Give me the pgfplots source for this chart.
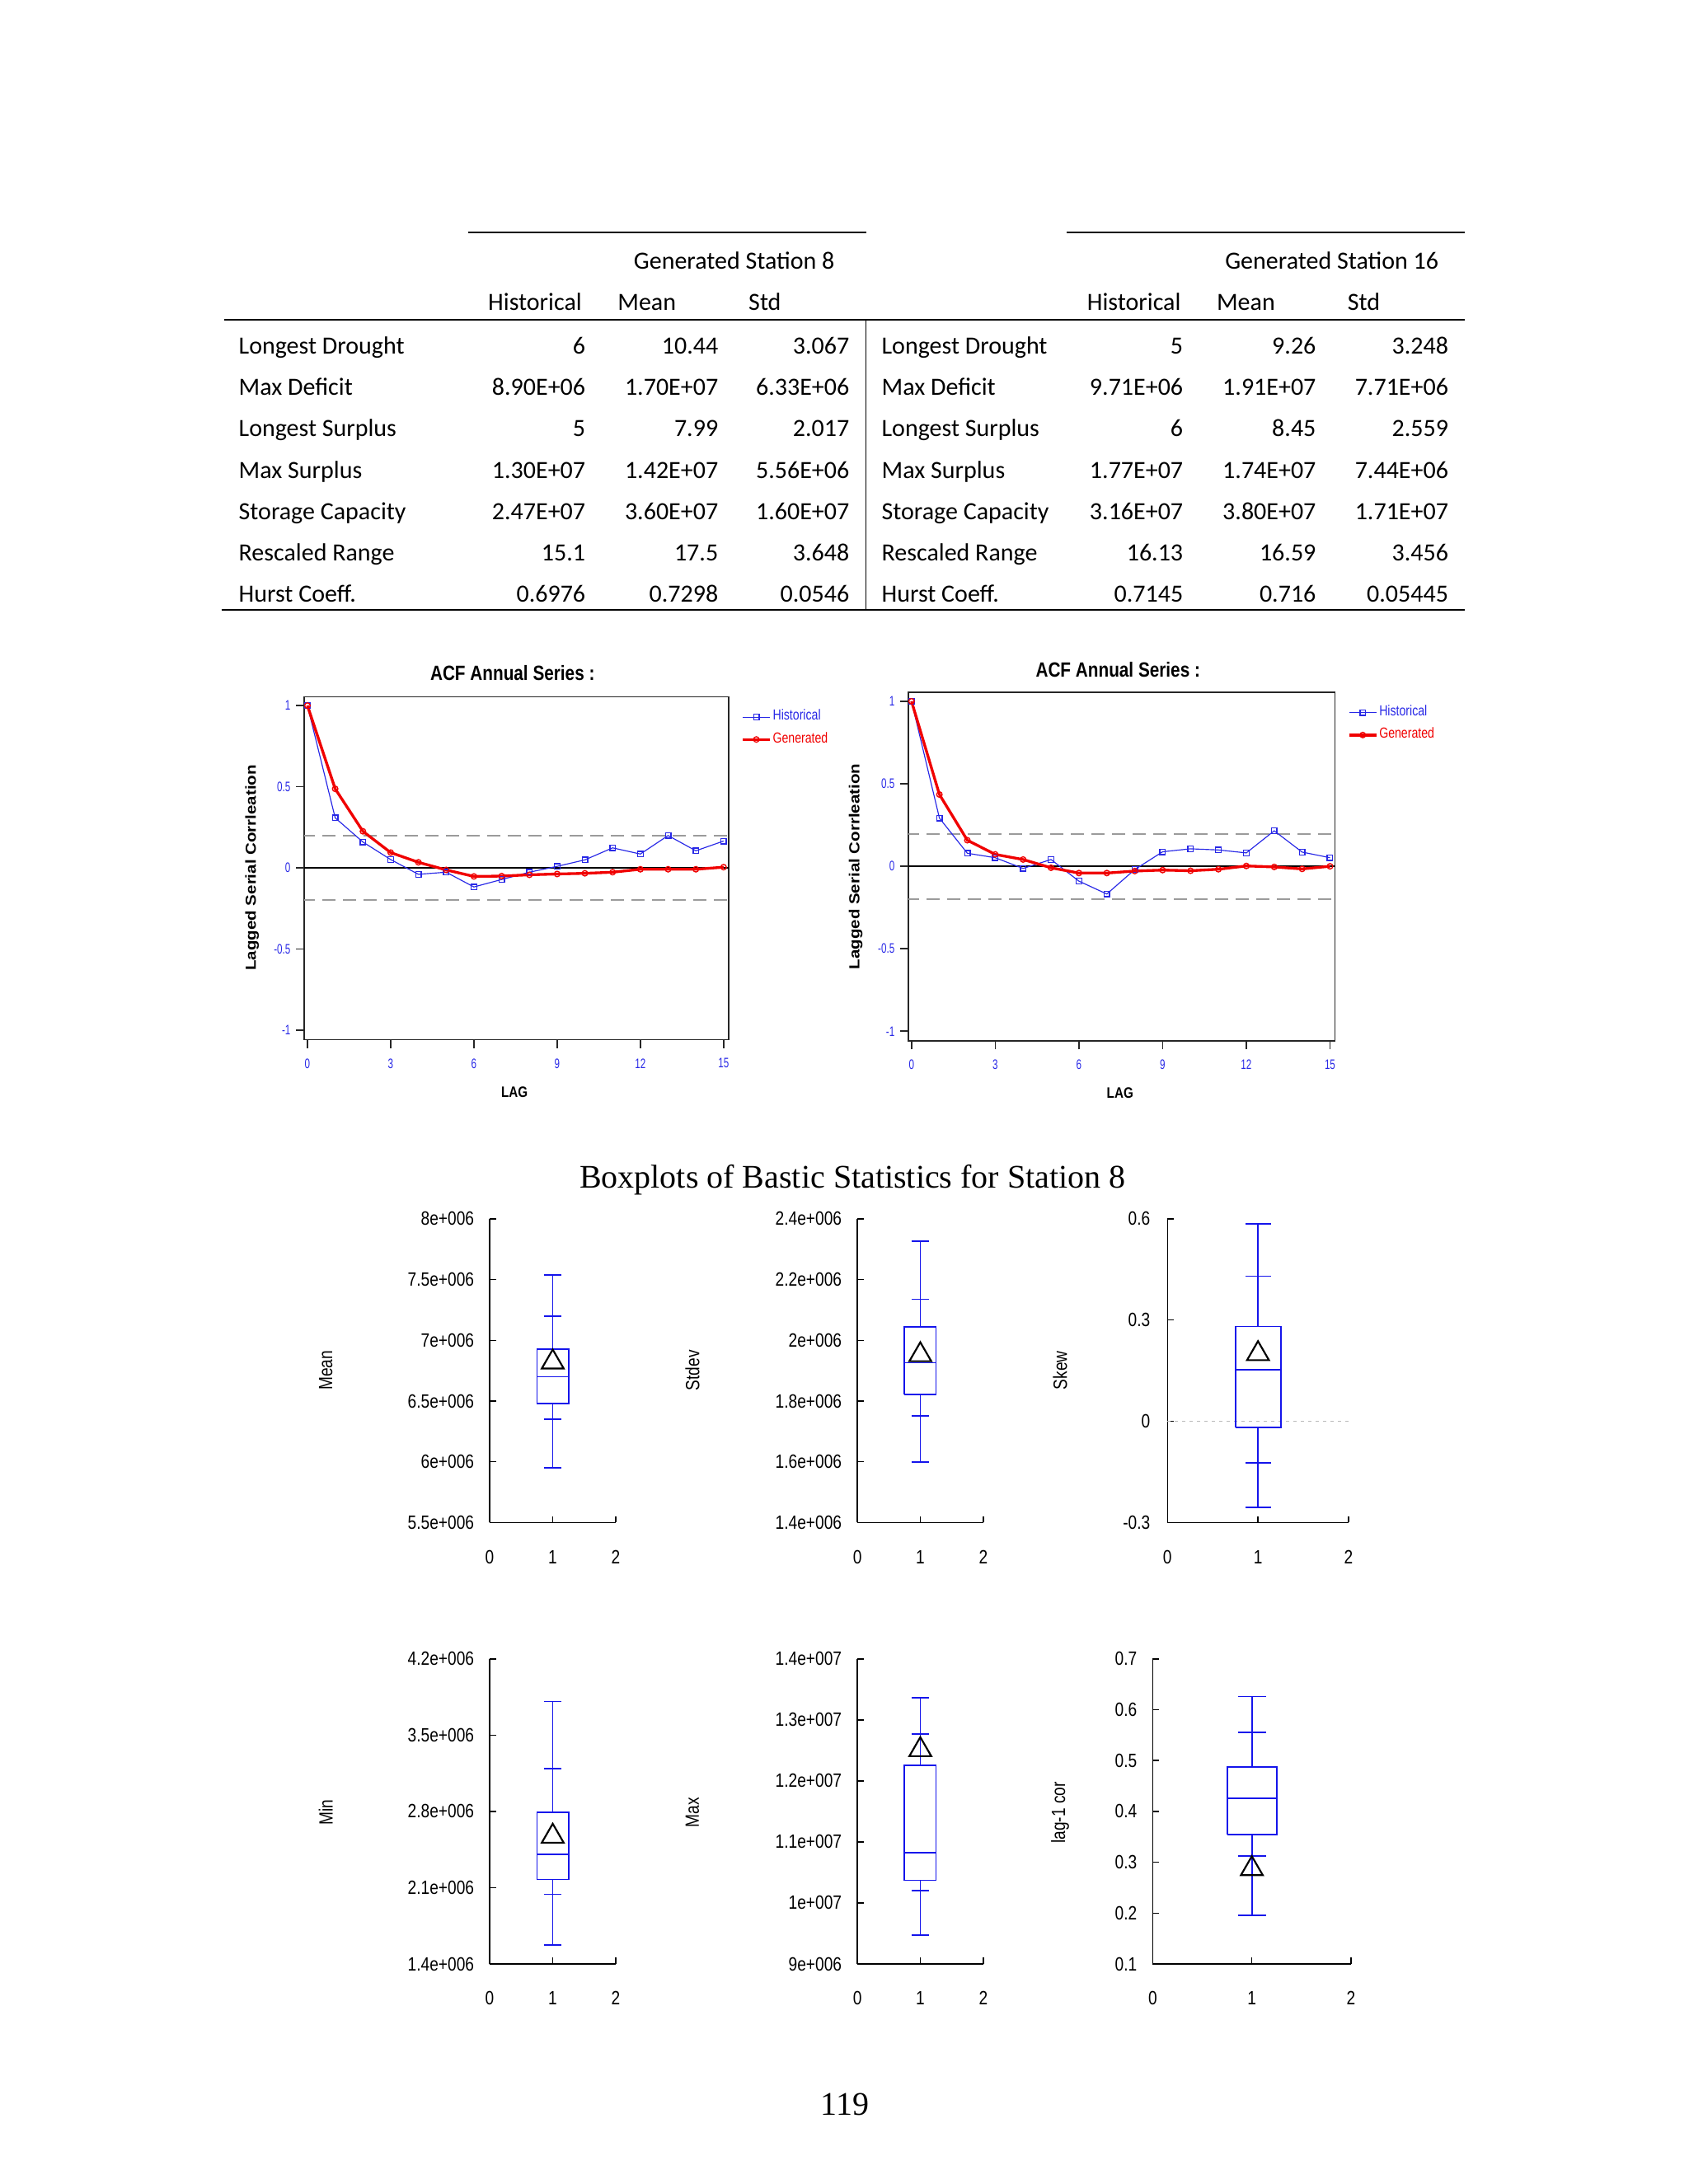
\documentclass[border=0pt]{standalone}
\usepackage{pgfplots}
\pgfplotsset{compat=1.18}
\usepackage{fontspec}
\setmainfont{Liberation Serif}
\newfontfamily\calib{Carlito}
\newfontfamily\acft[FakeStretch=0.83]{Liberation Sans}
\newfontfamily\acfn[FakeStretch=0.7]{Liberation Sans}
\newfontfamily\acfw[FakeStretch=1.16]{Liberation Sans}
\newfontfamily\legf[FakeStretch=0.8]{Liberation Sans}
\newfontfamily\bxf[FakeStretch=0.82]{Liberation Sans}

\definecolor{acfblue}{RGB}{40,40,230}
\definecolor{acfred}{RGB}{240,0,0}
\definecolor{refgray}{RGB}{155,155,155}
\definecolor{bxblue}{RGB}{20,20,235}

\pgfplotsset{
  acf/.style={scale only axis, anchor=south west,
    xmin=-0.115, xmax=15.18, ymin=-1.06, ymax=1.054,
    xtick={0,3,...,15}, xticklabels={0,3,6,9,12,15},
    ytick={-1,-0.5,0,0.5,1}, yticklabels={-1,-0.5,0,0.5,1},
    xtick pos=lower, ytick pos=left, tick align=outside, major tick length=3pt,
    axis line style={black!85, line width=0.5pt},
    tick style={black!85, line width=0.5pt},
    tick label style={font=\acfn\fontsize{5}{6}\selectfont, text=acfblue, inner sep=0pt},
    xticklabel style={anchor=center, yshift=-5.6pt},
    yticklabel style={anchor=east, xshift=-1.8pt},
    legend style={draw=none, fill=none, at={(1,1)}, anchor=north west,
      xshift=4.4pt, yshift=-4pt, inner sep=0pt, row sep=1.8pt,
      font=\legf\fontsize{5.3}{6}\selectfont, nodes={inner sep=0.5pt}},
    legend cell align=left,
    legend image code/.code={\draw[mark repeat=2, mark phase=2, #1]
      plot coordinates {(0pt,0pt) (5pt,0pt) (10pt,0pt)};}},
  refl/.style={refgray, line width=0.6pt, dash pattern=on 4.8pt off 2.7pt},
  hist/.style={acfblue, line width=0.35pt, mark=square, mark size=1pt,
    mark options={solid, line width=0.4pt}},
  gen/.style={acfred, line width=1pt, mark=o, mark size=1pt,
    mark options={solid, line width=0.4pt}},
  bxp/.style={scale only axis, anchor=south west, xmin=0, xmax=2,
    axis x line=bottom, axis y line=left,
    axis line style={-, black, line width=0.45pt},
    xtick={0,1,2}, xticklabels={0,1,2},
    tick align=inside, major tick length=2.3pt,
    tick style={black, line width=0.45pt},
    tick label style={font=\bxf\fontsize{7}{8}\selectfont, inner sep=0pt},
    xticklabel style={anchor=center, yshift=-12.5pt},
    yticklabel style={anchor=east, xshift=-5.5pt},
    scaled y ticks=false, clip=false},
  bl/.style={bxblue, line width=0.55pt},
  tri/.style={only marks, mark=triangle, mark size=4.6pt,
    mark options={black, line width=0.65pt}},
}

\begin{document}
\begin{tikzpicture}
\path[use as bounding box] (0pt,0pt) rectangle (614.4pt,-794.87pt);

\begin{scope}[x=0.50693pt, y=-0.50693pt]
% table
\draw[line width=0.7pt] (335.8,167) -- (621.6,167);
\draw[line width=0.7pt] (765.9,167) -- (1051.7,167);
\draw[line width=0.7pt] (160.8,229.5) -- (1051.7,229.5);
\draw[line width=0.45pt] (621.6,229.5) -- (621.6,438);
\draw[line width=0.7pt] (159,438) -- (1051.7,438);
\tikzset{tb/.style={inner sep=0pt, font=\calib\fontsize{9}{11}\selectfont}}
\node[tb, anchor=mid] at (527,188.5) {Generated Station 8};
\node[tb, anchor=mid] at (956,188.5) {Generated Station 16};
\node[tb, anchor=mid west] at (350,218.5) {Historical};
\node[tb, anchor=mid west] at (443,218.5) {Mean};
\node[tb, anchor=mid west] at (537,218.5) {Std};
\node[tb, anchor=mid west] at (780,218.5) {Historical};
\node[tb, anchor=mid west] at (873,218.5) {Mean};
\node[tb, anchor=mid west] at (967,218.5) {Std};
\foreach \yy/\la/\va/\vb/\vc/\vd/\ve/\vf in {
  249.5/Longest Drought/6/10.44/3.067/5/9.26/3.248,
  279.3/Max Deficit/8.90E+06/1.70E+07/6.33E+06/9.71E+06/1.91E+07/7.71E+06,
  309/Longest Surplus/5/7.99/2.017/6/8.45/2.559,
  338.7/Max Surplus/1.30E+07/1.42E+07/5.56E+06/1.77E+07/1.74E+07/7.44E+06,
  368.4/Storage Capacity/2.47E+07/3.60E+07/1.60E+07/3.16E+07/3.80E+07/1.71E+07,
  398.1/Rescaled Range/15.1/17.5/3.648/16.13/16.59/3.456,
  427.8/Hurst Coeff./0.6976/0.7298/0.0546/0.7145/0.716/0.05445}{
  \node[tb, anchor=mid west] at (171,\yy) {\la};
  \node[tb, anchor=mid east] at (420.6,\yy) {\va};
  \node[tb, anchor=mid east] at (515.9,\yy) {\vb};
  \node[tb, anchor=mid east] at (610,\yy) {\vc};
  \node[tb, anchor=mid west] at (632.5,\yy) {\la};
  \node[tb, anchor=mid east] at (849.6,\yy) {\vd};
  \node[tb, anchor=mid east] at (945,\yy) {\ve};
  \node[tb, anchor=mid east] at (1040,\yy) {\vf};
}
% ACF titles and labels
\node[font=\acft\bfseries\fontsize{7.5}{9}\selectfont] at (367.9,483.4) {ACF Annual Series :};
\node[font=\acft\bfseries\fontsize{7.5}{9}\selectfont] at (802.5,480.5) {ACF Annual Series :};
\node[font=\acft\bfseries\fontsize{5.5}{6}\selectfont] at (369.3,783.9) {LAG};
\node[font=\acft\bfseries\fontsize{5.5}{6}\selectfont] at (804,784.5) {LAG};
\node[rotate=90, font=\acfw\bfseries\fontsize{5.3}{6}\selectfont] at (180.9,623) {Lagged Serial Corrleation};
\node[rotate=90, font=\acfw\bfseries\fontsize{5.3}{6}\selectfont] at (614.3,622.2) {Lagged Serial Corrleation};
% boxplot title, labels, page number
\node[font=\fontsize{12}{14}\selectfont] at (612,847) {Boxplots of Bastic Statistics for Station 8};
\tikzset{bxl/.style={rotate=90, font=\bxf\fontsize{7}{8}\selectfont}}
\node[bxl] at (233.8,983.9) {Mean};
\node[bxl] at (497,983.9) {Stdev};
\node[bxl] at (761,983.9) {Skew};
\node[bxl] at (233.8,1301.4) {Min};
\node[bxl] at (497,1301.4) {Max};
\node[bxl] at (761,1301.4) {lag-1 cor};
\node[font=\fontsize{12}{14}\selectfont] at (606.6,1511) {119};
\end{scope}

% ACF station 8
\begin{axis}[acf, at={(110.71pt,-378.42pt)}, width=154.41pt, height=124.81pt]
\addplot[refl, forget plot] coordinates {(-0.2,0.196) (15.3,0.196)};
\addplot[refl, forget plot] coordinates {(-0.2,-0.196) (15.3,-0.196)};
\addplot[black, line width=0.5pt, forget plot] coordinates {(-0.2,0) (15.3,0)};
\addplot[hist] coordinates {(0,1) (1,0.308) (2,0.159) (3,0.051) (4,-0.040) (5,-0.027) (6,-0.118) (7,-0.072) (8,-0.027) (9,0.009) (10,0.049) (11,0.123) (12,0.085) (13,0.199) (14,0.105) (15,0.165)};
\addlegendentry{\textcolor{acfblue}{Historical}}
\addplot[gen] coordinates {(0,1) (1,0.487) (2,0.225) (3,0.094) (4,0.034) (5,-0.013) (6,-0.053) (7,-0.051) (8,-0.043) (9,-0.038) (10,-0.034) (11,-0.027) (12,-0.009) (13,-0.009) (14,-0.009) (15,0.004)};
\addlegendentry{\textcolor{acfred}{Generated}}
\end{axis}

% ACF station 16
\begin{axis}[acf, at={(330.52pt,-378.93pt)}, width=155.27pt, height=126.94pt]
\addplot[refl, forget plot] coordinates {(-0.2,0.197) (15.3,0.197)};
\addplot[refl, forget plot] coordinates {(-0.2,-0.197) (15.3,-0.197)};
\addplot[black, line width=0.5pt, forget plot] coordinates {(-0.2,0) (15.3,0)};
\addplot[hist] coordinates {(0,1) (1,0.292) (2,0.079) (3,0.052) (4,-0.013) (5,0.041) (6,-0.090) (7,-0.168) (8,-0.020) (9,0.088) (10,0.106) (11,0.099) (12,0.081) (13,0.215) (14,0.086) (15,0.052)};
\addlegendentry{\textcolor{acfblue}{Historical}}
\addplot[gen] coordinates {(0,1) (1,0.435) (2,0.158) (3,0.072) (4,0.041) (5,-0.009) (6,-0.041) (7,-0.041) (8,-0.029) (9,-0.023) (10,-0.027) (11,-0.018) (12,0.002) (13,-0.004) (14,-0.016) (15,0.0)};
\addlegendentry{\textcolor{acfred}{Generated}}
\end{axis}

% Boxplot: Mean
\begin{axis}[bxp, at={(178.19pt,-554.13pt)}, width=45.88pt, height=110.56pt,
  ymin=5.5e6, ymax=8e6, ytick={5.5e6,6e6,6.5e6,7e6,7.5e6,8e6},
  yticklabels={5.5e+006,6e+006,6.5e+006,7e+006,7.5e+006,8e+006}]
\addplot[bl] coordinates {(1,5.95e6) (1,6.48e6)};
\addplot[bl] coordinates {(1,6.93e6) (1,7.54e6)};
\addplot[bl] coordinates {(0.75,6.48e6) (1.25,6.48e6) (1.25,6.93e6) (0.75,6.93e6) (0.75,6.48e6)};
\addplot[bl] coordinates {(0.75,6.70e6) (1.25,6.70e6)};
\addplot[bl] coordinates {(0.86,5.95e6) (1.14,5.95e6)};
\addplot[bl] coordinates {(0.86,6.35e6) (1.14,6.35e6)};
\addplot[bl] coordinates {(0.86,7.20e6) (1.14,7.20e6)};
\addplot[bl] coordinates {(0.86,7.54e6) (1.14,7.54e6)};
\addplot[tri] coordinates {(1,6.82e6)};
\end{axis}

% Boxplot: Stdev
\begin{axis}[bxp, at={(311.97pt,-554.13pt)}, width=45.83pt, height=110.56pt,
  ymin=1.4e6, ymax=2.4e6, ytick={1.4e6,1.6e6,1.8e6,2e6,2.2e6,2.4e6},
  yticklabels={1.4e+006,1.6e+006,1.8e+006,2e+006,2.2e+006,2.4e+006}]
\addplot[bl] coordinates {(1,1.600e6) (1,1.821e6)};
\addplot[bl] coordinates {(1,2.045e6) (1,2.327e6)};
\addplot[bl] coordinates {(0.75,1.821e6) (1.25,1.821e6) (1.25,2.045e6) (0.75,2.045e6) (0.75,1.821e6)};
\addplot[bl] coordinates {(0.75,1.926e6) (1.25,1.926e6)};
\addplot[bl] coordinates {(0.86,1.600e6) (1.14,1.600e6)};
\addplot[bl] coordinates {(0.86,1.751e6) (1.14,1.751e6)};
\addplot[bl] coordinates {(0.86,2.135e6) (1.14,2.135e6)};
\addplot[bl] coordinates {(0.86,2.327e6) (1.14,2.327e6)};
\addplot[tri] coordinates {(1,1.952e6)};
\end{axis}

% Boxplot: Skew
\begin{axis}[bxp, at={(424.81pt,-554.13pt)}, width=65.90pt, height=110.56pt,
  ymin=-0.3, ymax=0.6, ytick={-0.3,0,0.3,0.6},
  yticklabels={-0.3,0,0.3,0.6}, yticklabel style={xshift=-0.6pt}]
\addplot[gray!55, line width=0.4pt, dash pattern=on 1.2pt off 1.5pt] coordinates {(0,0) (2,0)};
\addplot[bl] coordinates {(1,-0.255) (1,-0.018)};
\addplot[bl] coordinates {(1,0.281) (1,0.586)};
\addplot[bl] coordinates {(0.75,-0.018) (1.25,-0.018) (1.25,0.281) (0.75,0.281) (0.75,-0.018)};
\addplot[bl] coordinates {(0.75,0.152) (1.25,0.152)};
\addplot[bl] coordinates {(0.86,-0.255) (1.14,-0.255)};
\addplot[bl] coordinates {(0.86,-0.124) (1.14,-0.124)};
\addplot[bl] coordinates {(0.86,0.430) (1.14,0.430)};
\addplot[bl] coordinates {(0.86,0.586) (1.14,0.586)};
\addplot[tri] coordinates {(1,0.200)};
\end{axis}

% Boxplot: Min
\begin{axis}[bxp, at={(178.19pt,-714.77pt)}, width=45.88pt, height=111.02pt,
  ymin=1.4e6, ymax=4.2e6, ytick={1.4e6,2.1e6,2.8e6,3.5e6,4.2e6},
  yticklabels={1.4e+006,2.1e+006,2.8e+006,3.5e+006,4.2e+006}]
\addplot[bl] coordinates {(1,1.572e6) (1,2.175e6)};
\addplot[bl] coordinates {(1,2.794e6) (1,3.809e6)};
\addplot[bl] coordinates {(0.75,2.175e6) (1.25,2.175e6) (1.25,2.794e6) (0.75,2.794e6) (0.75,2.175e6)};
\addplot[bl] coordinates {(0.75,2.405e6) (1.25,2.405e6)};
\addplot[bl] coordinates {(0.86,1.572e6) (1.14,1.572e6)};
\addplot[bl] coordinates {(0.86,2.039e6) (1.14,2.039e6)};
\addplot[bl] coordinates {(0.86,3.193e6) (1.14,3.193e6)};
\addplot[bl] coordinates {(0.86,3.809e6) (1.14,3.809e6)};
\addplot[tri] coordinates {(1,2.571e6)};
\end{axis}

% Boxplot: Max
\begin{axis}[bxp, at={(311.97pt,-714.77pt)}, width=45.83pt, height=111.02pt,
  ymin=9e6, ymax=1.4e7, ytick={9e6,1e7,1.1e7,1.2e7,1.3e7,1.4e7},
  yticklabels={9e+006,1e+007,1.1e+007,1.2e+007,1.3e+007,1.4e+007}]
\addplot[bl] coordinates {(1,9.47e6) (1,10.37e6)};
\addplot[bl] coordinates {(1,12.26e6) (1,13.36e6)};
\addplot[bl] coordinates {(0.75,10.37e6) (1.25,10.37e6) (1.25,12.26e6) (0.75,12.26e6) (0.75,10.37e6)};
\addplot[bl] coordinates {(0.75,10.82e6) (1.25,10.82e6)};
\addplot[bl] coordinates {(0.86,9.47e6) (1.14,9.47e6)};
\addplot[bl] coordinates {(0.86,10.20e6) (1.14,10.20e6)};
\addplot[bl] coordinates {(0.86,12.77e6) (1.14,12.77e6)};
\addplot[bl] coordinates {(0.86,13.36e6) (1.14,13.36e6)};
\addplot[tri] coordinates {(1,12.51e6)};
\end{axis}

% Boxplot: lag-1 cor
\begin{axis}[bxp, at={(419.43pt,-714.77pt)}, width=72.19pt, height=111.02pt,
  ymin=0.1, ymax=0.7, ytick={0.1,0.2,0.3,0.4,0.5,0.6,0.7},
  yticklabels={0.1,0.2,0.3,0.4,0.5,0.6,0.7}]
\addplot[bl] coordinates {(1,0.195) (1,0.354)};
\addplot[bl] coordinates {(1,0.488) (1,0.626)};
\addplot[bl] coordinates {(0.75,0.354) (1.25,0.354) (1.25,0.488) (0.75,0.488) (0.75,0.354)};
\addplot[bl] coordinates {(0.75,0.426) (1.25,0.426)};
\addplot[bl] coordinates {(0.86,0.195) (1.14,0.195)};
\addplot[bl] coordinates {(0.86,0.312) (1.14,0.312)};
\addplot[bl] coordinates {(0.86,0.555) (1.14,0.555)};
\addplot[bl] coordinates {(0.86,0.626) (1.14,0.626)};
\addplot[tri] coordinates {(1,0.287)};
\end{axis}
\end{tikzpicture}
\end{document}
